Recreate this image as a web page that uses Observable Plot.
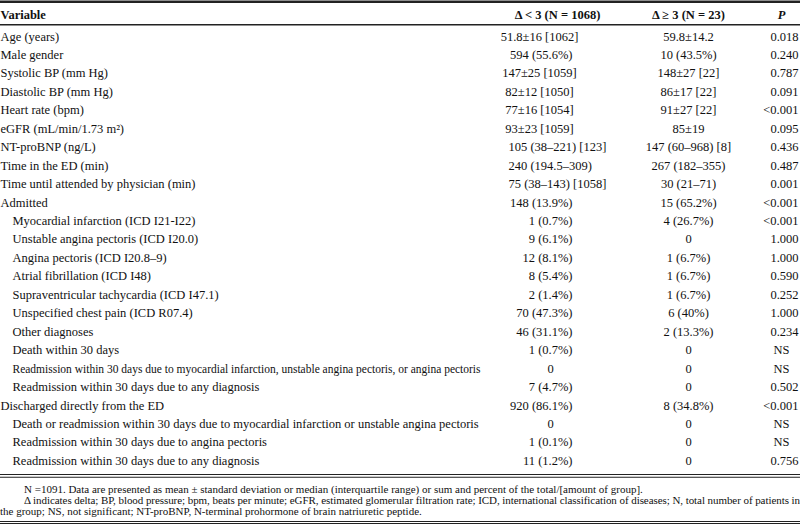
<!DOCTYPE html>
<html><head><meta charset="utf-8">
<script src="https://cdn.jsdelivr.net/npm/d3@7"></script>
<script src="https://cdn.jsdelivr.net/npm/@observablehq/plot@0.6"></script>
<style>
html,body{margin:0;padding:0;background:#fff;}
#chart{width:800px;height:480px;}
#note{width:800px;box-sizing:border-box;font-family:"Liberation Serif",serif;font-size:11px;line-height:11px;color:#111;padding-top:4px;padding-bottom:4px;border-bottom:3px double #222;}
#note div{white-space:nowrap;}
#note .indent{padding-left:24px;}
#note .just{text-align:justify;text-align-last:justify;}
</style></head><body>
<div id="chart"></div>
<div id="note"></div>
<script>
// ---- data ----
const headers = ["Variable", "Δ < 3 (N = 1068)", "Δ ≥ 3 (N = 23)", "P"];
const variables = [
  "Age (years)", "Male gender", "Systolic BP (mm Hg)", "Diastolic BP (mm Hg)", "Heart rate (bpm)",
  "eGFR (mL/min/1.73 m²)", "NT-proBNP (ng/L)", "Time in the ED (min)", "Time until attended by physician (min)",
  "Admitted", "Myocardial infarction (ICD I21-I22)", "Unstable angina pectoris (ICD I20.0)",
  "Angina pectoris (ICD I20.8–9)", "Atrial fibrillation (ICD I48)", "Supraventricular tachycardia (ICD I47.1)",
  "Unspecified chest pain (ICD R07.4)", "Other diagnoses", "Death within 30 days",
  "Readmission within 30 days due to myocardial infarction, unstable angina pectoris, or angina pectoris",
  "Readmission within 30 days due to any diagnosis", "Discharged directly from the ED",
  "Death or readmission within 30 days due to myocardial infarction or unstable angina pectoris",
  "Readmission within 30 days due to angina pectoris", "Readmission within 30 days due to any diagnosis"
];
const levels = [0,0,0,0,0,0,0,0,0,0,1,1,1,1,1,1,1,1,1,1,0,1,1,1];
const group1 = [
  "51.8±16 [1062]", "594 (55.6%)", "147±25 [1059]", "82±12 [1050]", "77±16 [1054]", "93±23 [1059]",
  "105 (38–221) [123]", "240 (194.5–309)", "75 (38–143) [1058]", "148 (13.9%)", "1 (0.7%)", "9 (6.1%)",
  "12 (8.1%)", "8 (5.4%)", "2 (1.4%)", "70 (47.3%)", "46 (31.1%)", "1 (0.7%)", "0", "7 (4.7%)",
  "920 (86.1%)", "0", "1 (0.1%)", "11 (1.2%)"
];
const group2 = [
  "59.8±14.2", "10 (43.5%)", "148±27 [22]", "86±17 [22]", "91±27 [22]", "85±19", "147 (60–968) [8]",
  "267 (182–355)", "30 (21–71)", "15 (65.2%)", "4 (26.7%)", "0", "1 (6.7%)", "1 (6.7%)", "1 (6.7%)",
  "6 (40%)", "2 (13.3%)", "0", "0", "0", "8 (34.8%)", "0", "0", "0"
];
const pValues = [
  "0.018", "0.240", "0.787", "0.091", "<0.001", "0.095", "0.436", "0.487", "0.001", "<0.001", "<0.001",
  "1.000", "1.000", "0.590", "0.252", "1.000", "0.234", "NS", "NS", "0.502", "<0.001", "NS", "NS", "0.756"
];
const footnoteLines = [
  "N =1091. Data are presented as mean ± standard deviation or median (interquartile range) or sum and percent of the total/[amount of group].",
  "Δ indicates delta; BP, blood pressure; bpm, beats per minute; eGFR, estimated glomerular filtration rate; ICD, international classification of diseases; N, total number of patients in",
  "the group; NS, not significant; NT-proBNP, N-terminal prohormone of brain natriuretic peptide."
];

// ---- layout (positions, not data) ----
const L = {
  indent: 12, labelMaxRight: 468,
  g1Head: 557, g2: 688, pRight: 798, pMid: 781,
  g1: {pct: [572, "end"], zero: [550, "middle"], iqr: [508, "start"], msd: [539, "middle"]},
  headerRow: -1.175, topRule: -1.88, headRule: -0.634, bottomRules: [23.74, 23.89],
  note1Width: 535
};
const fmt = s => s.includes("%") ? "pct" : s === "0" ? "zero" : s.includes("–") ? "iqr" : "msd";

const rows = variables.map((v, i) => ({i, v, level: levels[i], g1: group1[i], g2: group2[i], p: pValues[i]}));
const ink = "#111";
const fs = 12.5;

const g1Marks = Object.keys(L.g1).map(k =>
  Plot.text(rows.filter(r => fmt(r.g1) === k), {x: () => L.g1[k][0], y: "i", text: "g1", textAnchor: L.g1[k][1], fill: ink, fontSize: fs})
);

const chart = Plot.plot({
  width: 800, height: 480,
  margin: 0,
  x: {type: "linear", domain: [0, 800], range: [0, 800], axis: null},
  y: {type: "linear", domain: [0, 23], range: [36, 36 + 23 * 18.45], axis: null},
  style: {fontFamily: "'Liberation Serif', 'Times New Roman', serif", background: "#fff", color: ink},
  marks: [
    Plot.ruleY([L.topRule], {stroke: "#222", strokeWidth: 2.6}),
    Plot.ruleY([L.headRule], {stroke: "#222", strokeWidth: 1.4}),
    Plot.ruleY(L.bottomRules, {stroke: "#222", strokeWidth: 1.2}),
    // header
    Plot.text([headers[0]], {x: () => 0, y: () => L.headerRow, text: d => d, textAnchor: "start", fontWeight: "bold", fill: ink, fontSize: fs}),
    Plot.text([headers[1]], {x: () => L.g1Head, y: () => L.headerRow, text: d => d, textAnchor: "middle", fontWeight: "bold", fill: ink, fontSize: fs}),
    Plot.text([headers[2]], {x: () => L.g2, y: () => L.headerRow, text: d => d, textAnchor: "middle", fontWeight: "bold", fill: ink, fontSize: fs}),
    Plot.text([headers[3]], {x: () => L.pMid, y: () => L.headerRow, text: d => d, textAnchor: "middle", fontWeight: "bold", fontStyle: "italic", fill: ink, fontSize: fs}),
    // labels
    Plot.text(rows.filter(r => r.level === 0), {x: () => 0, y: "i", text: "v", textAnchor: "start", fill: ink, fontSize: fs}),
    Plot.text(rows.filter(r => r.level === 1), {x: () => 0, dx: L.indent, y: "i", text: "v", textAnchor: "start", fill: ink, fontSize: fs}),
    // group 1
    ...g1Marks,
    // group 2
    Plot.text(rows, {x: () => L.g2, y: "i", text: "g2", textAnchor: "middle", fill: ink, fontSize: fs}),
    // p values
    Plot.text(rows.filter(r => r.p !== "NS"), {x: () => L.pRight, y: "i", text: "p", textAnchor: "end", fill: ink, fontSize: fs}),
    Plot.text(rows.filter(r => r.p === "NS"), {x: () => L.pMid, y: "i", text: "p", textAnchor: "middle", fill: ink, fontSize: fs})
  ]
});
document.getElementById("chart").appendChild(chart);

// condense over-long row labels so they stay clear of the first value column
const labelSet = new Set(variables);
chart.querySelectorAll("text").forEach(t => {
  if (!labelSet.has(t.textContent)) return;
  const bb = t.getBBox();
  if (bb.x + bb.width > L.labelMaxRight) {
    t.setAttribute("textLength", L.labelMaxRight - bb.x);
    t.setAttribute("lengthAdjust", "spacingAndGlyphs");
  }
});

const note = document.getElementById("note");
footnoteLines.forEach((t, i) => {
  const d = document.createElement("div");
  d.textContent = t;
  if (i < 2) d.className = "indent";
  if (i === 1) d.className += " just";
  note.appendChild(d);
  if (i === 0) {
    d.style.width = (L.note1Width + 24) + "px";
    d.style.boxSizing = "border-box";
    d.className += " just";
  }
  if (i === 1) {
    const probe = document.createElement("span");
    probe.textContent = t;
    probe.style.whiteSpace = "nowrap";
    d.textContent = "";
    d.appendChild(probe);
    const avail = 800 - 24;
    const w = probe.getBoundingClientRect().width;
    d.textContent = t;
    if (w > avail) d.style.letterSpacing = (-(w - avail) / t.length) + "px";
  }
});
</script>
</body></html>
